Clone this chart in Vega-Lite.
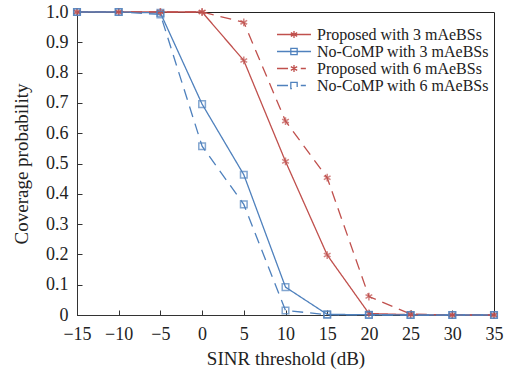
{
  "$schema": "https://vega.github.io/schema/vega-lite/v6.json",
  "width": 417,
  "height": 303,
  "autosize": {"type": "none"},
  "padding": {"left": 77, "top": 12, "right": 15, "bottom": 57},
  "background": "white",
  "config": {
    "font": "Liberation Serif",
    "view": {"stroke": "#222", "strokeWidth": 1},
    "axis": {
      "grid": false,
      "domainColor": "#333",
      "tickColor": "#333",
      "tickSize": -5,
      "labelFont": "Liberation Serif",
      "labelFontSize": 18,
      "labelColor": "#222",
      "labelOverlap": false,
      "labelFlush": false,
      "titleFont": "Liberation Serif",
      "titleFontSize": 19,
      "titleFontWeight": "normal",
      "titleColor": "#222"
    }
  },
  "data": {
    "values": [
      {"x": -15, "p": 1, "series": "Proposed with 3 mAeBSs", "marker": "asterisk"},
      {"x": -10, "p": 1, "series": "Proposed with 3 mAeBSs", "marker": "asterisk"},
      {"x": -5, "p": 1, "series": "Proposed with 3 mAeBSs", "marker": "asterisk"},
      {"x": 0, "p": 1, "series": "Proposed with 3 mAeBSs", "marker": "asterisk"},
      {"x": 5, "p": 0.84, "series": "Proposed with 3 mAeBSs", "marker": "asterisk"},
      {"x": 10, "p": 0.507, "series": "Proposed with 3 mAeBSs", "marker": "asterisk"},
      {"x": 15, "p": 0.198, "series": "Proposed with 3 mAeBSs", "marker": "asterisk"},
      {"x": 20, "p": 0.005, "series": "Proposed with 3 mAeBSs", "marker": "asterisk"},
      {"x": 25, "p": 0.001, "series": "Proposed with 3 mAeBSs", "marker": "asterisk"},
      {"x": 30, "p": 0, "series": "Proposed with 3 mAeBSs", "marker": "asterisk"},
      {"x": 35, "p": 0, "series": "Proposed with 3 mAeBSs", "marker": "asterisk"},
      {"x": -15, "p": 1, "series": "No-CoMP with 3 mAeBSs", "marker": "square"},
      {"x": -10, "p": 1, "series": "No-CoMP with 3 mAeBSs", "marker": "square"},
      {"x": -5, "p": 0.997, "series": "No-CoMP with 3 mAeBSs", "marker": "square"},
      {"x": 0, "p": 0.696, "series": "No-CoMP with 3 mAeBSs", "marker": "square"},
      {"x": 5, "p": 0.463, "series": "No-CoMP with 3 mAeBSs", "marker": "square"},
      {"x": 10, "p": 0.092, "series": "No-CoMP with 3 mAeBSs", "marker": "square"},
      {"x": 15, "p": 0.002, "series": "No-CoMP with 3 mAeBSs", "marker": "square"},
      {"x": 20, "p": 0.001, "series": "No-CoMP with 3 mAeBSs", "marker": "square"},
      {"x": 25, "p": 0, "series": "No-CoMP with 3 mAeBSs", "marker": "square"},
      {"x": 30, "p": 0, "series": "No-CoMP with 3 mAeBSs", "marker": "square"},
      {"x": 35, "p": 0, "series": "No-CoMP with 3 mAeBSs", "marker": "square"},
      {"x": -15, "p": 1, "series": "Proposed with 6 mAeBSs", "marker": "asterisk"},
      {"x": -10, "p": 1, "series": "Proposed with 6 mAeBSs", "marker": "asterisk"},
      {"x": -5, "p": 1, "series": "Proposed with 6 mAeBSs", "marker": "asterisk"},
      {"x": 0, "p": 1, "series": "Proposed with 6 mAeBSs", "marker": "asterisk"},
      {"x": 5, "p": 0.966, "series": "Proposed with 6 mAeBSs", "marker": "asterisk"},
      {"x": 10, "p": 0.64, "series": "Proposed with 6 mAeBSs", "marker": "asterisk"},
      {"x": 15, "p": 0.453, "series": "Proposed with 6 mAeBSs", "marker": "asterisk"},
      {"x": 20, "p": 0.061, "series": "Proposed with 6 mAeBSs", "marker": "asterisk"},
      {"x": 25, "p": 0.003, "series": "Proposed with 6 mAeBSs", "marker": "asterisk"},
      {"x": 30, "p": 0, "series": "Proposed with 6 mAeBSs", "marker": "asterisk"},
      {"x": 35, "p": 0, "series": "Proposed with 6 mAeBSs", "marker": "asterisk"},
      {"x": -15, "p": 1, "series": "No-CoMP with 6 mAeBSs", "marker": "square"},
      {"x": -10, "p": 1, "series": "No-CoMP with 6 mAeBSs", "marker": "square"},
      {"x": -5, "p": 0.992, "series": "No-CoMP with 6 mAeBSs", "marker": "square"},
      {"x": 0, "p": 0.557, "series": "No-CoMP with 6 mAeBSs", "marker": "square"},
      {"x": 5, "p": 0.365, "series": "No-CoMP with 6 mAeBSs", "marker": "square"},
      {"x": 10, "p": 0.015, "series": "No-CoMP with 6 mAeBSs", "marker": "square"},
      {"x": 15, "p": 0.001, "series": "No-CoMP with 6 mAeBSs", "marker": "square"},
      {"x": 20, "p": 0, "series": "No-CoMP with 6 mAeBSs", "marker": "square"},
      {"x": 25, "p": 0, "series": "No-CoMP with 6 mAeBSs", "marker": "square"},
      {"x": 30, "p": 0, "series": "No-CoMP with 6 mAeBSs", "marker": "square"},
      {"x": 35, "p": 0, "series": "No-CoMP with 6 mAeBSs", "marker": "square"}
    ]
  },
  "encoding": {
    "x": {
      "field": "x", "type": "quantitative", "title": "SINR threshold (dB)",
      "scale": {"domain": [-15, 35], "nice": false},
      "axis": {"values": [-15, -10, -5, 0, 5, 10, 15, 20, 25, 30, 35], "labelPadding": 15, "titlePadding": 6, "labelOverlap": false}
    },
    "y": {
      "field": "p", "type": "quantitative", "title": "Coverage probability",
      "scale": {"domain": [0, 1], "nice": false},
      "axis": {"values": [0, 0.1, 0.2, 0.3, 0.4, 0.5, 0.6, 0.7, 0.8, 0.9, 1], "labelOverlap": false, "labelExpr": "datum.value == 0 ? '0' : format(datum.value, '.1f')", "labelPadding": 14, "titlePadding": 14}
    },
    "color": {
      "field": "series", "type": "nominal",
      "scale": {
        "domain": ["Proposed with 3 mAeBSs", "No-CoMP with 3 mAeBSs", "Proposed with 6 mAeBSs", "No-CoMP with 6 mAeBSs"],
        "range": ["#c0504d", "#4f81bd", "#c0504d", "#4f81bd"]
      },
      "legend": {
        "title": null,
        "orient": "none",
        "legendX": 195,
        "legendY": 16,
        "padding": 0,
        "labelFont": "Liberation Serif",
        "labelFontSize": 16,
        "labelColor": "#222",
        "labelLimit": 400,
        "labelOffset": 15,
        "symbolOffset": 14,
        "symbolSize": 72,
        "clipHeight": 13,
        "rowPadding": 0,
        "encode": {
          "symbols": {
            "update": {
              "shape": {"signal": "datum.value == 'Proposed with 3 mAeBSs' ? 'M-4,0L4,0M0,-0.85L0,0.85M-0.75,-0.45L0.75,0.45M-0.75,0.45L0.75,-0.45' : datum.value == 'No-CoMP with 3 mAeBSs' ? 'M-4,0L4,0M-0.75,-0.75L0.75,-0.75L0.75,0.75L-0.75,0.75Z' : datum.value == 'Proposed with 6 mAeBSs' ? 'M-4,0L0,0M1.6,0L2.8,0M0,-0.85L0,0.85M-0.75,-0.45L0.75,0.45M-0.75,0.45L0.75,-0.45' : 'M-4,0L-0.75,0M1.6,0L2.8,0M-0.75,-0.75L0.75,-0.75L0.75,0.75L-0.75,0.75Z'"},
              "strokeWidth": {"value": 1.3},
              "fill": {"value": "transparent"},
              "strokeDash": {"value": [1, 0]}
            }
          }
        }
      }
    }
  },
  "layer": [
    {
      "mark": {"type": "line", "strokeWidth": 1.3, "clip": false},
      "encoding": {
        "strokeDash": {
          "field": "series", "type": "nominal",
          "scale": {
            "domain": ["Proposed with 3 mAeBSs", "No-CoMP with 3 mAeBSs", "Proposed with 6 mAeBSs", "No-CoMP with 6 mAeBSs"],
            "range": [[1, 0], [1, 0], [11, 7], [11, 7]]
          },
          "legend": null
        }
      }
    },
    {
      "mark": {"type": "point", "filled": false, "strokeWidth": 1.5, "size": 60, "clip": false},
      "encoding": {
        "shape": {
          "field": "marker", "type": "nominal",
          "scale": {
            "domain": ["asterisk", "square"],
            "range": ["M0,-1L0,1M-0.87,-0.5L0.87,0.5M-0.87,0.5L0.87,-0.5", "M-0.85,-0.85L0.85,-0.85L0.85,0.85L-0.85,0.85Z"]
          },
          "legend": null
        }
      }
    }
  ]
}
